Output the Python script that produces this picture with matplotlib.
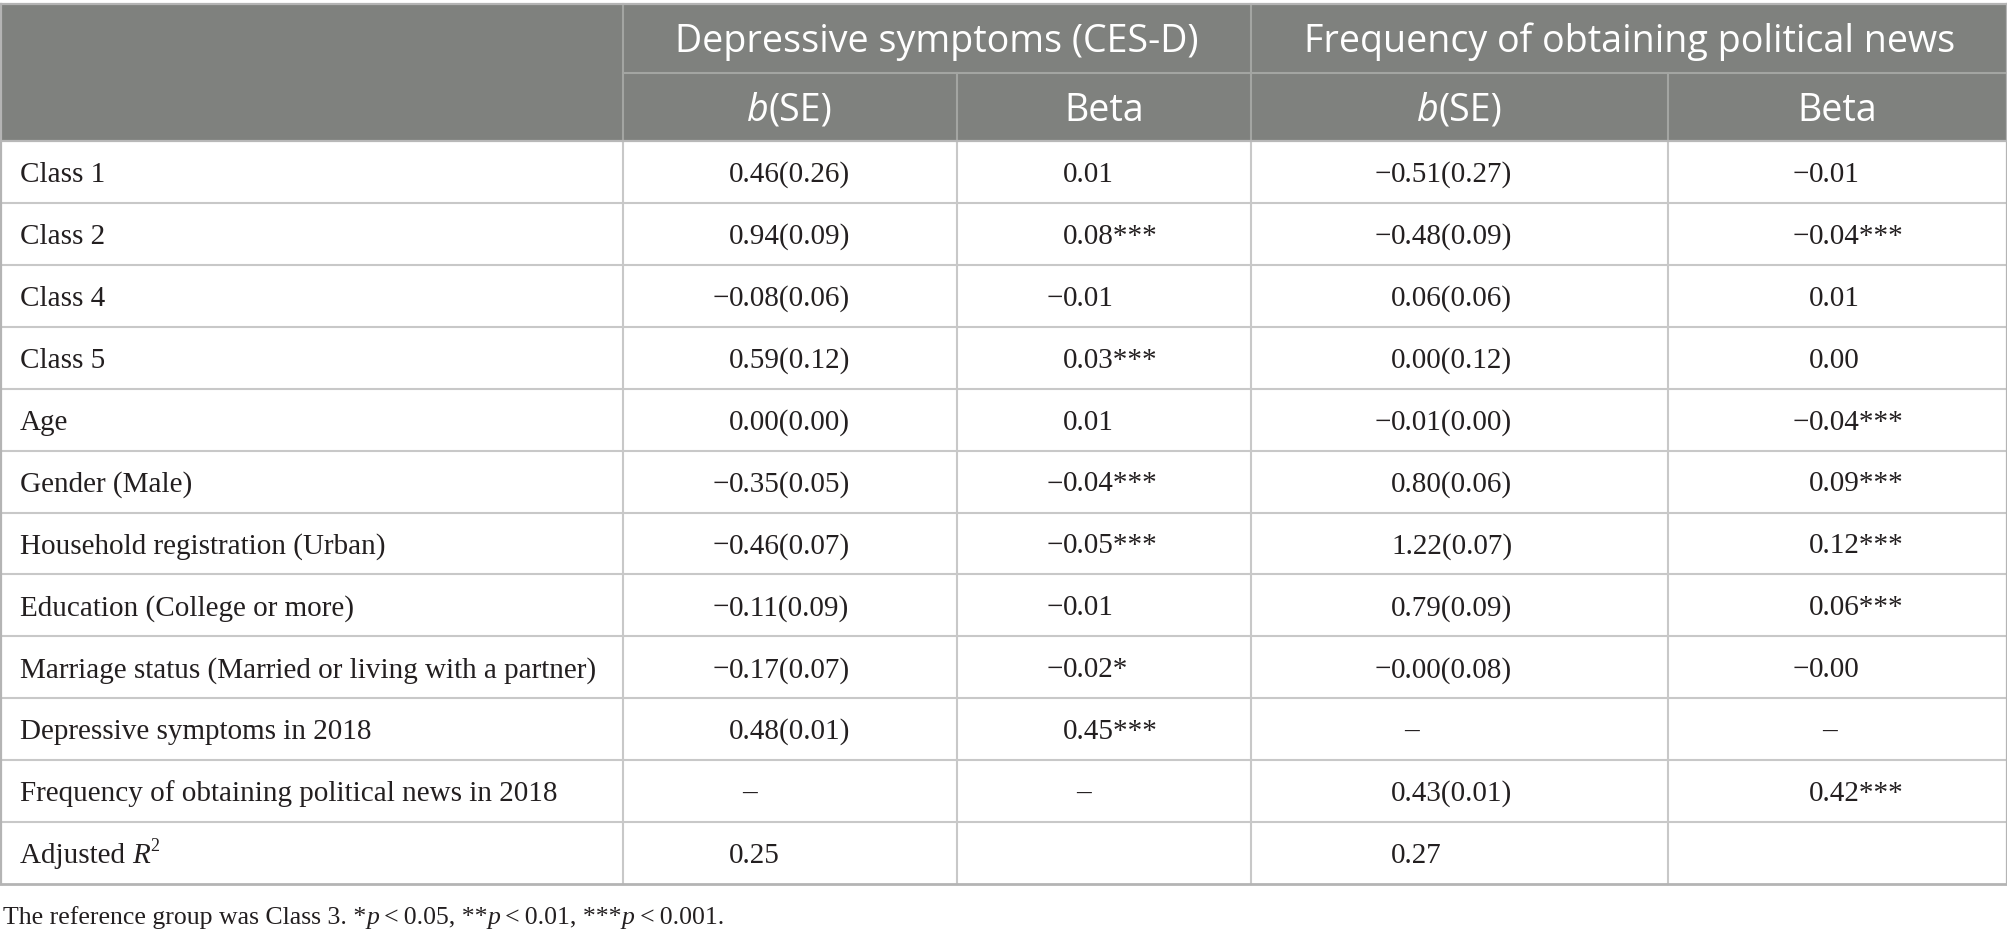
import matplotlib
matplotlib.use("Agg")
import matplotlib.pyplot as plt
from matplotlib.patches import Rectangle

# ---------------- data ----------------
row_labels = ["Class 1", "Class 2", "Class 4", "Class 5", "Age", "Gender (Male)",
              "Household registration (Urban)", "Education (College or more)",
              "Marriage status (Married or living with a partner)",
              "Depressive symptoms in 2018",
              "Frequency of obtaining political news in 2018"]
group_headers = ["Depressive symptoms (CES-D)", "Frequency of obtaining political news"]
sub_headers = ["b(SE)", "Beta", "b(SE)", "Beta"]

dep_b    = [0.46, 0.94, -0.08, 0.59, 0.00, -0.35, -0.46, -0.11, -0.17, 0.48, None]
dep_se   = [0.26, 0.09, 0.06, 0.12, 0.00, 0.05, 0.07, 0.09, 0.07, 0.01, None]
dep_beta = [0.01, 0.08, -0.01, 0.03, 0.01, -0.04, -0.05, -0.01, -0.02, 0.45, None]
dep_sig  = ["", "***", "", "***", "", "***", "***", "", "*", "***", ""]

news_b    = [-0.51, -0.48, 0.06, 0.00, -0.01, 0.80, 1.22, 0.79, -0.0, None, 0.43]
news_se   = [0.27, 0.09, 0.06, 0.12, 0.00, 0.06, 0.07, 0.09, 0.08, None, 0.01]
news_beta = [-0.01, -0.04, 0.01, 0.00, -0.04, 0.09, 0.12, 0.06, -0.0, None, 0.42]
news_sig  = ["", "***", "", "", "***", "***", "***", "***", "", "", "***"]

adj_r2 = [0.25, 0.27]
footnote_runs = [("The reference group was Class 3. *", "normal"), ("p", "italic"),
                 ("\u2009<\u20090.05, **", "normal"), ("p", "italic"),
                 ("\u2009<\u20090.01, ***", "normal"), ("p", "italic"),
                 ("\u2009<\u20090.001.", "normal")]

# ---------------- layout ----------------
W, H = 2008, 939
fig = plt.figure(figsize=(W / 100, H / 100), dpi=100)
ax = fig.add_axes([0, 0, 1, 1])
ax.set_xlim(0, W)
ax.set_ylim(H, 0)
ax.axis("off")
renderer = fig.canvas.get_renderer()

SERIF = ["Liberation Serif", "DejaVu Serif"]
SANS = ["Open Sans", "DejaVu Sans"]

def text_width(s, family, size, style="normal"):
    t = ax.text(0, 0, s, fontsize=size, family=family, style=style)
    w = t.get_window_extent(renderer).width
    t.remove()
    return w

def fit(s, family, target, style="normal"):
    return 20 * target / text_width(s, family, 20, style)

fs_head = fit(group_headers[1], SANS, 650)
fs_body = fit(row_labels[8], SERIF, 578)
fs_foot = fit("".join(r[0] for r in footnote_runs), SERIF, 718)

def px(fs):
    return fs * 100 / 72

def draw_runs(x, y, runs, family, size, ha="left", color="#222222"):
    widths = []
    for s, st, *rest in runs:
        sz = size * (rest[0] if rest else 1.0)
        widths.append(text_width(s, family, sz, st))
    total = sum(widths)
    x0 = x - total / 2 if ha == "center" else x
    for (s, st, *rest), w in zip(runs, widths):
        scale = rest[0] if rest else 1.0
        dy = rest[1] if len(rest) > 1 else 0
        ax.text(x0, y - dy, s, fontsize=size * scale, family=family, style=st,
                color=color, ha="left", va="baseline")
        x0 += w

col_x = [0, 623, 957, 1251.5, 1668.5, 2007]
top, mid, hb, bottom = 4, 73, 141, 884
n_rows = len(row_labels) + 1
rh = (bottom - hb) / n_rows

head_bg = "#7f817e"
head_line = "#a3a5a2"
body_line = "#c8c8c8"
border = "#b4b4b4"
txt = "#231f20"

ax.add_patch(Rectangle((0, top), W, hb - top, facecolor=head_bg, edgecolor="none", zorder=0))

# header lines
ax.plot([col_x[1], col_x[1]], [top, hb], color=head_line, lw=1.5, zorder=1)
ax.plot([col_x[3], col_x[3]], [top, hb], color=head_line, lw=1.5, zorder=1)
ax.plot([col_x[2], col_x[2]], [mid, hb], color=head_line, lw=1.5, zorder=1)
ax.plot([col_x[4], col_x[4]], [mid, hb], color=head_line, lw=1.5, zorder=1)
ax.plot([col_x[1], W], [mid, mid], color=head_line, lw=1.5, zorder=1)

# body lines
for i in range(1, n_rows):
    y = hb + i * rh
    ax.plot([0, W], [y, y], color=body_line, lw=1.5, zorder=1)
for cx in col_x[1:5]:
    ax.plot([cx, cx], [hb, bottom], color=body_line, lw=1.5, zorder=1)

# outer border
ax.plot([0.8, 0.8], [top, bottom], color=border, lw=1.6, zorder=2)
ax.plot([W - 1.2, W - 1.2], [top, bottom], color=border, lw=1.6, zorder=2)
ax.plot([0, W], [top, top], color=border, lw=1.6, zorder=2)
ax.plot([0, W], [hb, hb], color="#b8b8b8", lw=1.6, zorder=2)
ax.plot([0, W], [bottom, bottom], color=border, lw=2.0, zorder=2)

# header text
hcap = 0.36 * px(fs_head)
for g, (a, b) in zip(group_headers, [(col_x[1], col_x[3]), (col_x[3], col_x[5])]):
    ax.text((a + b) / 2, (top + mid) / 2 + hcap, g, fontsize=fs_head, family=SANS,
            color="white", ha="center", va="baseline")
for j, sh in enumerate(sub_headers):
    cx = (col_x[j + 1] + col_x[j + 2]) / 2
    yb = (mid + hb) / 2 + hcap
    if sh.startswith("b"):
        draw_runs(cx, yb, [("b", "italic"), ("(SE)", "normal")], SANS, fs_head,
                  ha="center", color="white")
    else:
        ax.text(cx, yb, sh, fontsize=fs_head, family=SANS, color="white",
                ha="center", va="baseline")

# body text
bcap = 0.34 * px(fs_body)
anchors = [729, 1063, 1391, 1809]
MINUS = "\u2212"

def fmt(v):
    return f"{v:.2f}"

def put_number(anchor, yb, v, extra=""):
    s = fmt(v)
    neg = s.startswith("-")
    if neg:
        s = s[1:]
        ax.text(anchor, yb, MINUS, fontsize=fs_body, family=SERIF, color=txt,
                ha="right", va="baseline")
    ax.text(anchor, yb, s + extra, fontsize=fs_body, family=SERIF, color=txt,
            ha="left", va="baseline")

def put_dash(anchor, yb):
    ax.text(anchor + 21, yb, "\u2013", fontsize=fs_body, family=SERIF, color=txt,
            ha="center", va="baseline")

for i, lab in enumerate(row_labels):
    yb = hb + (i + 0.5) * rh + bcap
    ax.text(20, yb, lab, fontsize=fs_body, family=SERIF, color=txt, ha="left", va="baseline")
    cols = [(dep_b, dep_se, dep_beta, dep_sig), (news_b, news_se, news_beta, news_sig)]
    for k, (bb, se, be, sg) in enumerate(cols):
        a1, a2 = anchors[2 * k], anchors[2 * k + 1]
        if bb[i] is None:
            put_dash(a1, yb)
            put_dash(a2, yb)
        else:
            put_number(a1, yb, bb[i], f"({se[i]:.2f})")
            put_number(a2, yb, be[i], sg[i])

# adjusted R2 row
yb = hb + (len(row_labels) + 0.5) * rh + bcap
draw_runs(20, yb, [("Adjusted ", "normal"), ("R", "italic"), ("2", "normal", 0.62, 0.42 * px(fs_body))],
          SERIF, fs_body, color=txt)
put_number(anchors[0], yb, adj_r2[0])
put_number(anchors[2], yb, adj_r2[1])

# footnote
draw_runs(3, 915 + 0.34 * px(fs_foot), footnote_runs, SERIF, fs_foot, color=txt)

fig.savefig("out.png", dpi=100, facecolor="white")
